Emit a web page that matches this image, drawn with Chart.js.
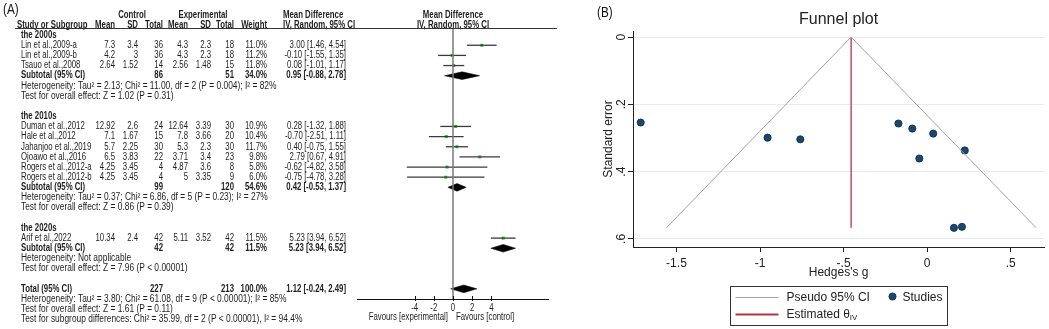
<!DOCTYPE html>
<html>
<head>
<meta charset="utf-8">
<script src="https://cdn.jsdelivr.net/npm/chart.js@4.4.1/dist/chart.umd.min.js"></script>
<style>
    html, body { margin: 0; padding: 0; background: #fff; width: 1049px; height: 329px; overflow: hidden; }
    #forestChart { position: absolute; left: 0; top: 0; }
    #funnelChart { position: absolute; left: 590px; top: 0; }
</style>
</head>
<body>
<canvas id="forestChart" width="590" height="329"></canvas>
<canvas id="funnelChart" width="459" height="329"></canvas>
<script>
// ---- Painel A: forest plot ----
const studyNames = ['Lin et al.,2009-a', 'Lin et al.,2009-b', 'Tsauo et al.,2008',
    'Duman et al.,2012', 'Hale et al.,2012', 'Jahanjoo et al.,2019', 'Ojoawo et al.,2016',
    'Rogers et al.,2012-a', 'Rogers et al.,2012-b', 'Arif et al.,2022'];
const studyRows = [1, 2, 3, 9, 10, 11, 12, 13, 14, 20];
const ctrlMean = [7.3, 4.2, 2.64, 12.92, 7.1, 5.7, 6.5, 4.25, 4.25, 10.34];
const ctrlSD = [3.4, 3, 1.52, 2.6, 1.67, 2.25, 3.83, 3.45, 3.45, 2.4];
const ctrlN = [36, 36, 14, 24, 15, 30, 22, 4, 4, 42];
const expMean = [4.3, 4.3, 2.56, 12.64, 7.8, 5.3, 3.71, 4.87, 5, 5.11];
const expSD = [2.3, 2.3, 1.48, 3.39, 3.66, 2.3, 3.4, 3.6, 3.35, 3.52];
const expN = [18, 18, 15, 30, 20, 30, 23, 8, 9, 42];
const studyWeight = [11.0, 11.2, 11.8, 10.9, 10.4, 11.7, 9.8, 5.8, 6.0, 11.5];
const studyMD = [3.00, -0.10, 0.08, 0.28, -0.70, 0.40, 2.79, -0.62, -0.75, 5.23];
const studyLow = [1.46, -1.55, -1.01, -1.32, -2.51, -0.75, 0.67, -4.82, -4.78, 3.94];
const studyHigh = [4.54, 1.35, 1.17, 1.88, 1.11, 1.55, 4.91, 3.58, 3.28, 6.52];

const groupNames = ['the 2000s', 'the 2010s', 'the 2020s'];
const groupRows = [0, 8, 19];
const subtotalRows = [4, 15, 21];
const subtotalCtrlN = [86, 99, 42];
const subtotalExpN = [51, 120, 42];
const subtotalWeight = [34.0, 54.6, 11.5];
const subtotalMD = [0.95, 0.42, 5.23];
const subtotalLow = [-0.88, -0.53, 3.94];
const subtotalHigh = [2.78, 1.37, 6.52];
const groupHetero = [
    'Heterogeneity: Tau\u00b2 = 2.13; Chi\u00b2 = 11.00, df = 2 (P = 0.004); I\u00b2 = 82%',
    'Heterogeneity: Tau\u00b2 = 0.37; Chi\u00b2 = 6.86, df = 5 (P = 0.23); I\u00b2 = 27%',
    'Heterogeneity: Not applicable'
];
const groupTest = [
    'Test for overall effect: Z = 1.02 (P = 0.31)',
    'Test for overall effect: Z = 0.86 (P = 0.39)',
    'Test for overall effect: Z = 7.96 (P < 0.00001)'
];

const totalRow = 25;
const totalCtrlN = 227;
const totalExpN = 213;
const totalWeight = 100.0;
const totalMD = 1.12;
const totalLow = -0.24;
const totalHigh = 2.49;
const totalNotes = [
    'Heterogeneity: Tau\u00b2 = 3.80; Chi\u00b2 = 61.08, df = 9 (P < 0.00001); I\u00b2 = 85%',
    'Test for overall effect: Z = 1.61 (P = 0.11)',
    'Test for subgroup differences: Chi\u00b2 = 35.99, df = 2 (P < 0.00001), I\u00b2 = 94.4%'
];
const forestTicks = [-4, -2, 0, 2, 4];

// ---- Painel B: funnel plot ----
const hedgesG = [-1.714, -0.955, -0.759, -0.172, -0.089, 0.036, 0.225, -0.047, 0.160, 0.208];
const stdError = [0.254, 0.299, 0.304, 0.257, 0.272, 0.287, 0.337, 0.361, 0.567, 0.564];
const pooledG = -0.455;
const maxSE = 0.567;
const pseudoCIX = [-1.56, -0.455, 0.652];
const pseudoCIY = [0.567, 0, 0.567];
const funnelXTicks = [-1.5, -1, -0.5, 0, 0.5];
const funnelYTicks = [0, 0.2, 0.4, 0.6];

const FONT = '"Liberation Sans", Arial, sans-serif';
const TEXT_SIZE = 10;
const TEXT_SQUEEZE = 0.78;   // tabela
const NOTE_SQUEEZE = 0.84;   // linhas de heterogeneidade / testes
const TEXT_COLOR = '#1e1e1e';
// colunas da tabela (borda direita dos números)
const col = { header: 17, name: 21, cMean: 115, cSD: 138, cN: 163, eMean: 188, eSD: 211, eN: 234, weight: 267, mdHead: 283, ci: 346 };

function fmtCI(md, lo, hi) {
    return md.toFixed(2) + ' [' + lo.toFixed(2) + ', ' + hi.toFixed(2) + ']';
}

function diamond(md, lo, hi, row) {
    const h = 0.38;
    return [{ x: lo, y: row }, { x: md, y: row - h }, { x: hi, y: row }, { x: md, y: row + h }, { x: lo, y: row }];
}

// Texto da tabela, eixo e rótulos do forest plot
const forestText = {
    id: 'forestText',
    afterDraw(chart) {
        const ctx = chart.ctx;
        const xs = chart.scales.x;
        const ys = chart.scales.y;
        const area = chart.chartArea;

        const put = (txt, px, py, align = 'left', bold = false, squeeze = TEXT_SQUEEZE) => {
            ctx.save();
            ctx.font = (bold ? 'bold ' : '') + TEXT_SIZE + 'px ' + FONT;
            ctx.fillStyle = TEXT_COLOR;
            ctx.textAlign = align;
            ctx.textBaseline = 'middle';
            ctx.translate(px, py);
            ctx.scale(squeeze, 1);
            ctx.fillText(txt, 0, 0);
            ctx.restore();
        };
        const note = (txt, row) => put(txt, col.name, ys.getPixelForValue(row), 'left', false, NOTE_SQUEEZE);
        const rowY = r => ys.getPixelForValue(r);

        ctx.save();
        // (A)
        ctx.save();
        ctx.font = '15px ' + FONT;
        ctx.fillStyle = '#111';
        ctx.textBaseline = 'middle';
        ctx.translate(3, 10);
        ctx.scale(0.78, 1);
        ctx.fillText('(A)', 0, 0);
        ctx.restore();

        // cabeçalhos
        const h1 = rowY(-2), h2 = rowY(-1);
        put('Control', 132, h1, 'center', true);
        put('Experimental', 203, h1, 'center', true);
        put('Mean Difference', col.mdHead, h1, 'left', true);
        put('Mean Difference', xs.getPixelForValue(0), h1, 'center', true);
        put('Study or Subgroup', col.header, h2, 'left', true);
        put('Mean', col.cMean, h2, 'right', true);
        put('SD', col.cSD, h2, 'right', true);
        put('Total', col.cN, h2, 'right', true);
        put('Mean', col.eMean, h2, 'right', true);
        put('SD', col.eSD, h2, 'right', true);
        put('Total', col.eN, h2, 'right', true);
        put('Weight', col.weight, h2, 'right', true);
        put('IV, Random, 95% CI', col.mdHead, h2, 'left', true);
        put('IV, Random, 95% CI', xs.getPixelForValue(0), h2, 'center', true);

        ctx.strokeStyle = '#333';
        ctx.lineWidth = 1;
        ctx.beginPath();
        ctx.moveTo(col.header - 2, area.top + 0.5);
        ctx.lineTo(area.right + 8, area.top + 0.5);
        ctx.stroke();

        // estudos
        studyNames.forEach((name, i) => {
            const py = rowY(studyRows[i]);
            put(name, col.name, py);
            put(String(ctrlMean[i]), col.cMean, py, 'right');
            put(String(ctrlSD[i]), col.cSD, py, 'right');
            put(String(ctrlN[i]), col.cN, py, 'right');
            put(String(expMean[i]), col.eMean, py, 'right');
            put(String(expSD[i]), col.eSD, py, 'right');
            put(String(expN[i]), col.eN, py, 'right');
            put(studyWeight[i].toFixed(1) + '%', col.weight, py, 'right');
            put(fmtCI(studyMD[i], studyLow[i], studyHigh[i]), col.ci, py, 'right');
        });

        // subgrupos
        groupNames.forEach((g, i) => {
            put(g, col.name, rowY(groupRows[i]), 'left', true);
            const py = rowY(subtotalRows[i]);
            put('Subtotal (95% CI)', col.name, py, 'left', true);
            put(String(subtotalCtrlN[i]), col.cN, py, 'right', true);
            put(String(subtotalExpN[i]), col.eN, py, 'right', true);
            put(subtotalWeight[i].toFixed(1) + '%', col.weight, py, 'right', true);
            put(fmtCI(subtotalMD[i], subtotalLow[i], subtotalHigh[i]), col.ci, py, 'right', true);
            note(groupHetero[i], subtotalRows[i] + 1);
            note(groupTest[i], subtotalRows[i] + 2);
        });

        // total
        const ty = rowY(totalRow);
        put('Total (95% CI)', col.name, ty, 'left', true);
        put(String(totalCtrlN), col.cN, ty, 'right', true);
        put(String(totalExpN), col.eN, ty, 'right', true);
        put(totalWeight.toFixed(1) + '%', col.weight, ty, 'right', true);
        put(fmtCI(totalMD, totalLow, totalHigh), col.ci, ty, 'right', true);
        totalNotes.forEach((t, i) => note(t, totalRow + 1 + i));

        // eixo x do forest plot
        ctx.strokeStyle = '#111';
        ctx.lineWidth = 1;
        ctx.beginPath();
        ctx.moveTo(area.left, area.bottom + 0.5);
        ctx.lineTo(area.right, area.bottom + 0.5);
        forestTicks.forEach(t => {
            const px = Math.round(xs.getPixelForValue(t)) + 0.5;
            ctx.moveTo(px, area.bottom - 3);
            ctx.lineTo(px, area.bottom + 2);
        });
        ctx.stroke();
        forestTicks.forEach(t => put(String(t), xs.getPixelForValue(t), area.bottom + 9, 'center'));
        const zx = xs.getPixelForValue(0);
        put('Favours [experimental]', zx - 5, area.bottom + 18, 'right');
        put('Favours [control]', zx + 3, area.bottom + 18, 'left');
        ctx.restore();
    }
};

const forestDatasets = [];
forestDatasets.push({
    data: [{ x: 0, y: -0.7 }, { x: 0, y: 26 }],
    showLine: true, pointRadius: 0, borderColor: '#7a7a7a', borderWidth: 1.5
});
studyRows.forEach((r, i) => {
    forestDatasets.push({
        data: [{ x: studyLow[i], y: r }, { x: studyHigh[i], y: r }],
        showLine: true, pointRadius: 0, borderColor: '#3a3a3a', borderWidth: 1.3
    });
});
forestDatasets.push({
    data: studyRows.map((r, i) => ({ x: studyMD[i], y: r })),
    pointStyle: 'rect', pointRadius: 2.1, backgroundColor: '#13c21b', borderWidth: 0
});
subtotalRows.forEach((r, i) => {
    forestDatasets.push({
        data: diamond(subtotalMD[i], subtotalLow[i], subtotalHigh[i], r),
        showLine: true, fill: 'shape', pointRadius: 0,
        borderColor: '#000', backgroundColor: '#000', borderWidth: 0.5
    });
});
forestDatasets.push({
    data: diamond(totalMD, totalLow, totalHigh, totalRow),
    showLine: true, fill: 'shape', pointRadius: 0,
    borderColor: '#000', backgroundColor: '#000', borderWidth: 0.5
});

new Chart(document.getElementById('forestChart'), {
    type: 'scatter',
    data: { datasets: forestDatasets },
    options: {
        responsive: false,
        animation: false,
        layout: { padding: { left: 357, right: 41, top: 28, bottom: 30 } },
        scales: {
            x: { type: 'linear', min: -10, max: 10, display: false },
            y: { type: 'linear', min: -0.7, max: 26, reverse: true, display: false }
        },
        plugins: { legend: { display: false }, tooltip: { enabled: false } }
    },
    plugins: [forestText]
});

// Legenda com moldura ao estilo Stata
const funnelLegend = {
    id: 'funnelLegend',
    afterDraw(chart) {
        const ctx = chart.ctx;
        const area = chart.chartArea;
        const ds = chart.data.datasets;
        const left = Math.round((area.left + area.right) / 2 - 108.5) + 0.5;
        const top = 286.5;
        ctx.save();
        ctx.strokeStyle = '#333';
        ctx.lineWidth = 1;
        ctx.strokeRect(left, top, 217, 39);

        ctx.font = '12px ' + FONT;
        ctx.fillStyle = '#222';
        ctx.textBaseline = 'middle';
        const r1 = top + 11, r2 = top + 28;

        ctx.strokeStyle = ds[0].borderColor;
        ctx.lineWidth = ds[0].borderWidth;
        ctx.beginPath(); ctx.moveTo(left + 5, r1); ctx.lineTo(left + 48, r1); ctx.stroke();
        ctx.fillText(ds[0].label, left + 56, r1);

        ctx.beginPath();
        ctx.arc(left + 162, r1 - 1, ds[1].pointRadius, 0, Math.PI * 2);
        ctx.fillStyle = ds[1].backgroundColor;
        ctx.fill();
        ctx.strokeStyle = ds[1].borderColor;
        ctx.lineWidth = ds[1].borderWidth;
        ctx.stroke();
        ctx.fillStyle = '#222';
        ctx.fillText(ds[1].label, left + 172, r1);

        ctx.strokeStyle = ds[2].borderColor;
        ctx.lineWidth = 2;
        ctx.beginPath(); ctx.moveTo(left + 5, r2); ctx.lineTo(left + 48, r2); ctx.stroke();
        ctx.fillText('Estimated \u03b8', left + 56, r2);
        const w = ctx.measureText('Estimated \u03b8').width;
        ctx.font = '8px ' + FONT;
        ctx.fillText('IV', left + 56 + w, r2 + 3);

        // (B)
        ctx.font = '15px ' + FONT;
        ctx.fillStyle = '#111';
        ctx.translate(7, 13);
        ctx.scale(0.78, 1);
        ctx.fillText('(B)', 0, 0);
        ctx.restore();
    }
};

const tickFmt = v => String(v).replace('0.', '.');

new Chart(document.getElementById('funnelChart'), {
    type: 'scatter',
    data: {
        datasets: [
            {
                label: 'Pseudo 95% CI',
                data: pseudoCIX.map((x, i) => ({ x: x, y: pseudoCIY[i] })),
                showLine: true, pointRadius: 0, borderColor: '#a3a3a3', borderWidth: 1
            },
            {
                label: 'Studies',
                data: hedgesG.map((g, i) => ({ x: g, y: stdError[i] })),
                pointRadius: 3.6, backgroundColor: '#1a476f', borderColor: '#0e2a45', borderWidth: 0.8
            },
            {
                label: 'Estimated \u03b8IV',
                data: [{ x: pooledG, y: 0 }, { x: pooledG, y: maxSE }],
                showLine: true, pointRadius: 0, borderColor: '#b8323f', borderWidth: 1.3
            }
        ]
    },
    options: {
        responsive: false,
        animation: false,
        layout: { padding: { left: 0, right: 2, top: 0, bottom: 49 } },
        scales: {
            x: {
                type: 'linear', min: -1.76, max: 0.70,
                afterBuildTicks: s => { s.ticks = funnelXTicks.map(v => ({ value: v })); },
                afterFit: s => { s.height = 33; },
                ticks: { callback: tickFmt, color: '#222', font: { family: FONT, size: 12 }, padding: 4, maxRotation: 0 },
                grid: { drawOnChartArea: false, tickLength: 5, tickColor: '#222' },
                border: { color: '#222', width: 1 },
                title: { display: true, text: "Hedges's g", color: '#222', font: { family: FONT, size: 12 }, padding: 0 }
            },
            y: {
                type: 'linear', min: -0.018, max: 0.624, reverse: true,
                afterBuildTicks: s => { s.ticks = funnelYTicks.map(v => ({ value: v })); },
                afterFit: s => { s.width = 43; },
                ticks: { callback: tickFmt, color: '#222', font: { family: FONT, size: 12 }, padding: 1,
                    minRotation: 90, maxRotation: 90, crossAlign: 'center' },
                grid: { color: '#e5ebee', tickLength: 5, tickColor: '#222' },
                border: { color: '#222', width: 1 },
                title: { display: true, text: 'Standard error', color: '#222', font: { family: FONT, size: 12 }, padding: { top: 11, bottom: 0 } }
            }
        },
        plugins: {
            legend: { display: false },
            tooltip: { enabled: false },
            title: {
                display: true, text: 'Funnel plot', fullSize: false, color: '#222',
                font: { family: FONT, size: 16, weight: 'normal' }, padding: { top: 10.4, bottom: 1.4 }
            }
        }
    },
    plugins: [funnelLegend]
});
</script>
</body>
</html>
